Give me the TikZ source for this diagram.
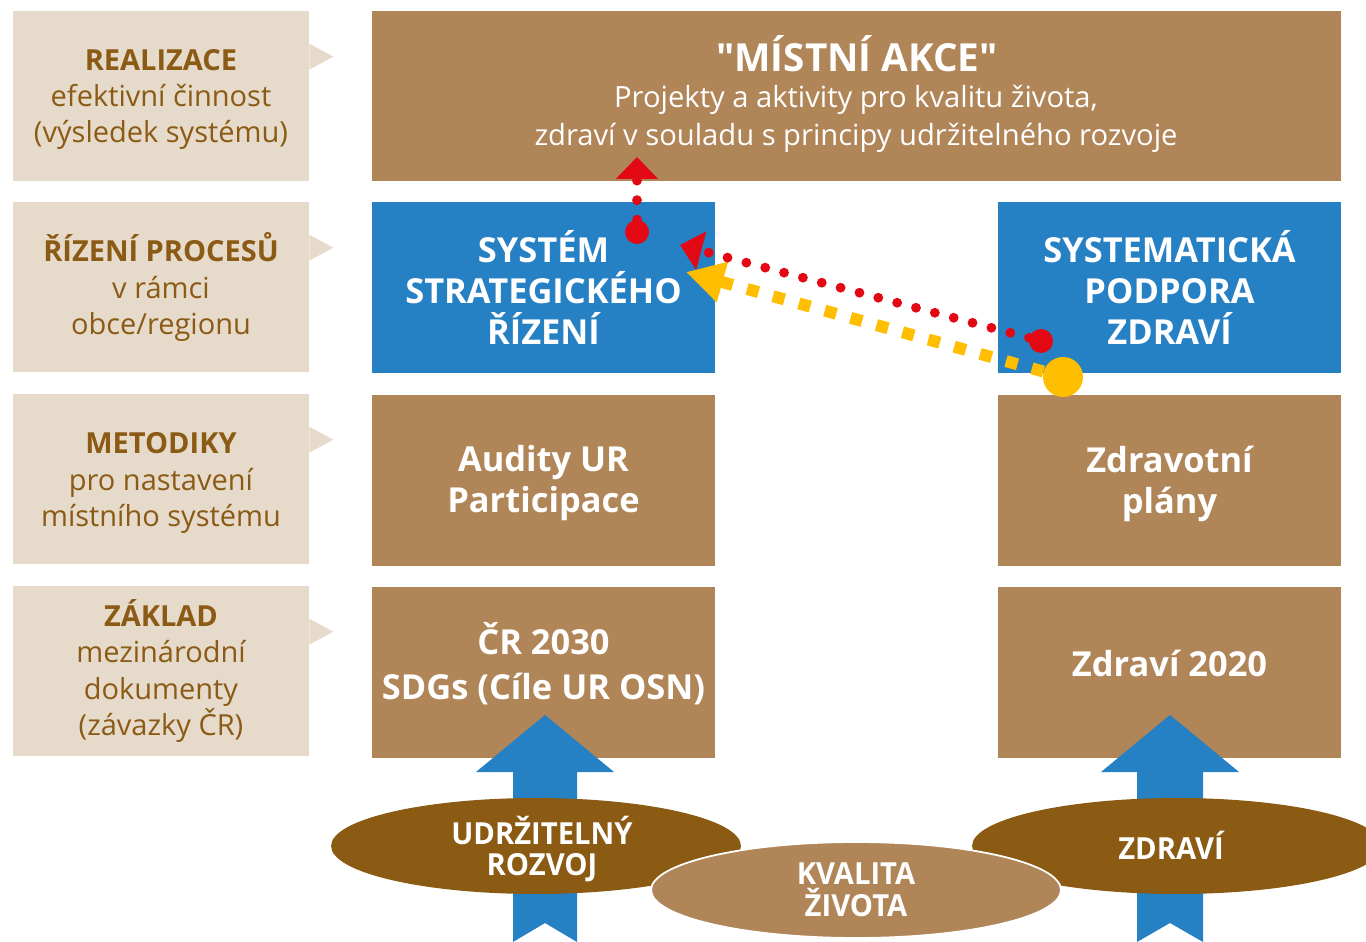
\documentclass[tikz,border=0pt]{standalone}
\usepackage{fontspec}
\setmainfont{Open Sans}
\newfontfamily\narrowfont[FakeStretch=0.96]{Open Sans}
\newcommand\plainquote{\XeTeXglyph\XeTeXglyphindex "quotedbl" }
\usepackage{tikz}
\usetikzlibrary{positioning,shapes.geometric,arrows.meta,calc}

\definecolor{labelbg}{HTML}{E6DACB}
\definecolor{labeltext}{HTML}{8B5A14}
\definecolor{boxbrown}{HTML}{B08558}
\definecolor{boxblue}{HTML}{2680C4}
\definecolor{darkbrown}{HTML}{8B5A13}
\definecolor{dotred}{HTML}{E20814}
\definecolor{dotyellow}{HTML}{FFBE00}

\tikzset{
  level/.style={fill=labelbg, text=labeltext, minimum width=5.92cm, minimum height=3.4cm,
    align=center, inner sep=0pt, font=\fontsize{16.5}{20.7}\selectfont},
  brownbox/.style={fill=boxbrown, text=white, minimum width=6.86cm, minimum height=3.42cm,
    align=center, inner sep=0pt, font=\bfseries\fontsize{19.6}{23.2}\selectfont},
  bluebox/.style={brownbox, fill=boxblue},
  boxtext/.style={text=white, align=center, inner sep=0pt, font=\bfseries\fontsize{19.6}{23.2}\selectfont},
  oval/.style={ellipse, fill=darkbrown, text=white, minimum width=8.2cm, minimum height=1.92cm,
    inner sep=0pt, align=center, font=\narrowfont\bfseries\fontsize{17.3}{18}\selectfont},
  ovaltext/.style={text=white, align=center, inner sep=0pt, font=\narrowfont\bfseries\fontsize{17.3}{18}\selectfont},
  dot/.style={circle, inner sep=0pt, minimum size=0.48cm},
  reddots/.style={dotred, line width=5.6pt, line cap=round, dash pattern=on 0pt off 11.1pt},
  yellowdash/.style={dotyellow, line width=6.8pt, dash pattern=on 6.8pt off 8.5pt},
}

\begin{document}
\begin{tikzpicture}[x=0.02cm, y=-0.02cm]
  \useasboundingbox (0,0) rectangle (1366,942);

  % levels on the left
  \node[level] (realizace) at (161,96) {};
  \node[text=labeltext, align=center, font=\fontsize{16.5}{20.7}\selectfont] (realizacetext) at (161,99.5)
    {\textbf{REALIZACE}\\efektivní činnost\\(výsledek systému)};
  \node[level] (rizeni) at (161,287) {\textbf{ŘÍZENÍ PROCESŮ}\\v rámci\\obce/regionu};
  \node[level] (metodiky) at (161,479) {};
  \node[text=labeltext, align=center, font=\fontsize{16.5}{20.7}\selectfont] (metodikytext) at (161,483)
    {\textbf{METODIKY}\\pro nastavení\\místního systému};
  \node[level] (zaklad) at (161,671) {\textbf{ZÁKLAD}\\mezinárodní\\dokumenty\\(závazky ČR)};
  \foreach \n in {realizace,rizeni,metodiky,zaklad}
    \fill[labelbg] ($(\n.north east)+(0,33)$) -- ++(24,13) -- ++(-24,13) -- cycle;

  % boxes
  \node[brownbox, minimum width=19.38cm] (akce) at (856.5,96) {};
  \node[text=white, font=\bfseries\fontsize{22}{26}\selectfont] (akcetitle) at (857,54)
    {\plainquote MÍSTNÍ AKCE\plainquote};
  \node[text=white, align=center, font=\fontsize{16.6}{21.5}\selectfont] (akcetext) at (856,119)
    {Projekty a aktivity pro kvalitu života,\\zdraví v souladu s principy udržitelného rozvoje};

  \node[bluebox] (strategie) at (543.5,287.5) {SYSTÉM\\STRATEGICKÉHO\\ŘÍZENÍ};
  \node[bluebox] (podpora) at (1169.5,287.5) {SYSTEMATICKÁ\\PODPORA\\ZDRAVÍ};
  \node[brownbox, below=0.42cm of strategie] (audity) {};
  \node[boxtext] (audittext) at ($(audity)+(0,3)$) {Audity UR\\Participace};
  \node[brownbox, below=0.42cm of podpora] (plany) {};
  \node[boxtext] (planytext) at ($(plany)+(0,4)$) {Zdravotní\\plány};
  \node[brownbox, below=0.42cm of audity] (cr) {};
  \node[boxtext, font=\bfseries\fontsize{19.6}{26}\selectfont] (crtext) at ($(cr)+(0,-9)$) {ČR 2030\\SDGs (Cíle UR OSN)};
  \node[brownbox, below=0.42cm of plany] (zdravi) {};
  \node[boxtext] (zdravitext) at ($(zdravi)+(0,-9)$) {Zdraví 2020};

  % blue arrows
  \fill[boxblue] (476,772) -- (545,715) -- (614,772) -- (577,772) -- (577,942) -- (545,923)
    -- (513,942) -- (513,772) -- cycle;
  \fill[boxblue] (1101,772) -- (1170,715) -- (1239,772) -- (1203,772) -- (1203,942) -- (1170,923)
    -- (1137,942) -- (1137,772) -- cycle;

  % ovals
  \node[oval] (udrzitelny) at (536,846) {};
  \node[ovaltext] (udrzitelnytext) at ($(udrzitelny)+(6,3)$) {UDRŽITELNÝ\\ROZVOJ};
  \node[oval] (zdravioval) at (1177,846) {};
  \node[ovaltext] (zdraviovaltext) at ($(zdravioval)+(-6,-1)$) {ZDRAVÍ};
  \node[oval, fill=boxbrown, draw=white, line width=1pt] (kvalita) at (856,890) {KVALITA\\ŽIVOTA};

  % dotted arrows
  \node[dot, fill=dotred] (redup) at (637,232) {};
  \node[dot, fill=dotred] (redleft) at (1041,341) {};
  \node[dot, fill=dotyellow, minimum size=0.8cm] (yellowdot) at (1063,377) {};
  \coordinate (redtop) at (637,157);
  \coordinate (redtip) at (680,245);
  \coordinate (yellowtip) at (686,272);

  \draw[yellowdash, -{Triangle[length=21.5pt, width=22.4pt]}] (yellowdot) -- (yellowtip);
  \draw[reddots, -{Triangle[length=12.5pt, width=21.9pt]}] (redleft) -- (redtip);
  \draw[reddots, -{Triangle[length=12.5pt, width=23.3pt]}] (redup) -- (redtop);
\end{tikzpicture}
\end{document}
